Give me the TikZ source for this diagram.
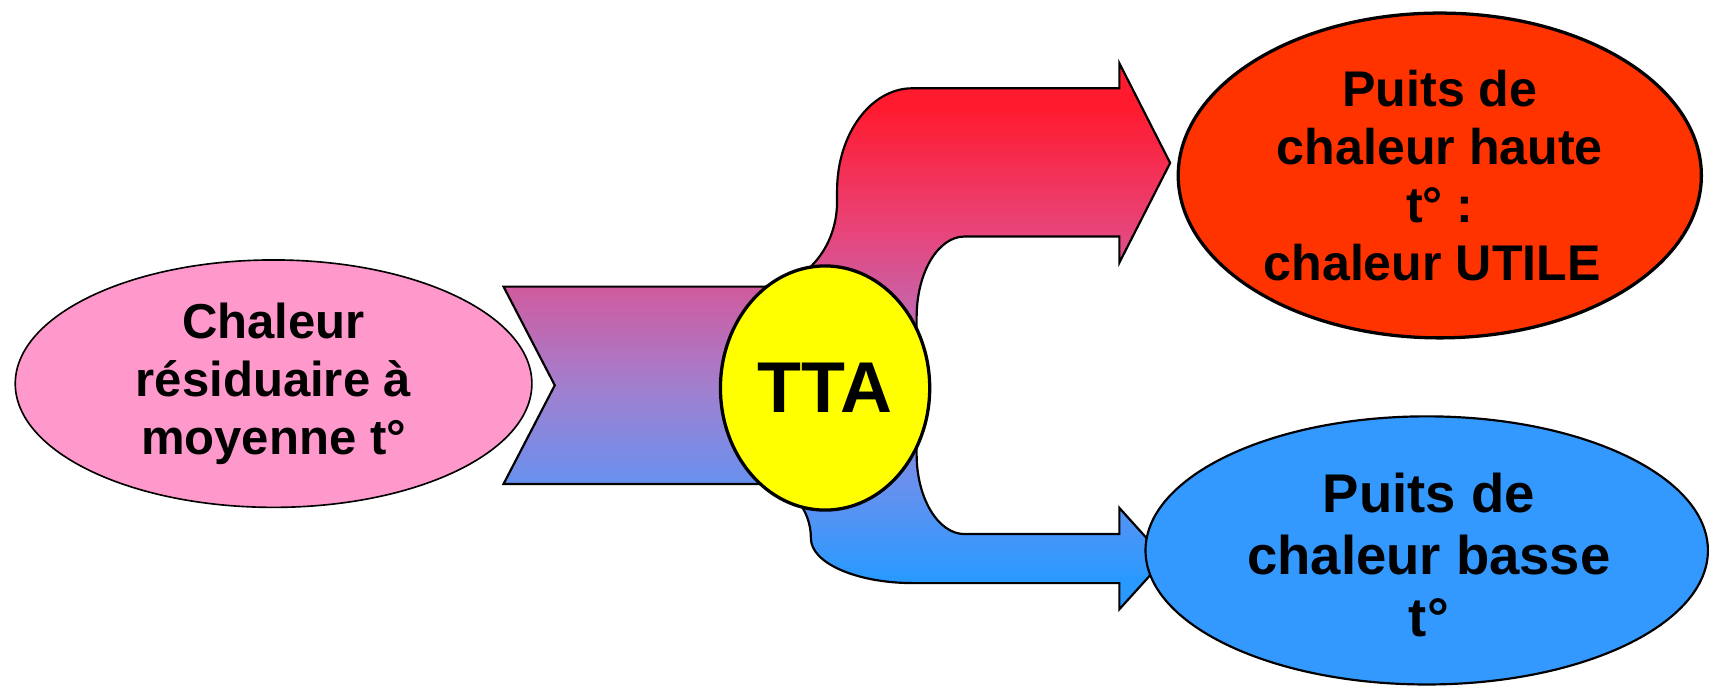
\documentclass[tikz,border=0pt]{standalone}
\usepackage{fontspec}
\setmainfont{Liberation Sans}
\usetikzlibrary{shapes.geometric}
\pgfdeclareverticalshading{flowshade}{100bp}{rgb(0bp)=(0.16,0.6,1); rgb(25bp)=(0.16,0.6,1); rgb(28bp)=(0.165,0.6,1); rgb(36.8bp)=(0.416,0.565,0.933); rgb(45bp)=(0.627,0.502,0.816); rgb(52.8bp)=(0.784,0.384,0.659); rgb(59.7bp)=(0.91,0.267,0.478); rgb(71bp)=(1,0.102,0.18); rgb(100bp)=(1,0.102,0.18)}
\definecolor{pinkfill}{RGB}{255,153,204}
\definecolor{redfill}{RGB}{255,51,0}
\definecolor{bluefill}{RGB}{51,153,255}
\definecolor{yellowfill}{RGB}{255,255,0}
\tikzset{
  flow/.style={shading=flowshade, draw=black, line width=2pt},
  bubble/.style={ellipse, draw=black, inner sep=0pt, align=center, text=black},
  lbl/.style={font=\fontsize{45}{53}\selectfont\bfseries},
}
\begin{document}
\begin{tikzpicture}[x=1pt, y=-1pt]
\useasboundingbox (0,0) rectangle (1568,629);
\fill[white] (0,0) rectangle (1568,629);
% combined flow arrow shape
\shadedraw[flow] (462,263) -- (700,263)
  .. controls (737.5,263) and (768,228) .. (768,185) -- (768,175)
  .. controls (768,123) and (799,81) .. (837,81) -- (1027,81) -- (1027,58)
  -- (1073.6,149.5) -- (1027,241) -- (1027,217) -- (885,217)
  .. controls (860.7,217) and (841,250) .. (841,291) -- (841,417)
  .. controls (841,457) and (860.7,490) .. (885,490) -- (1027,490) -- (1027,466)
  -- (1069,512.6) -- (1027,559) -- (1027,535) -- (838,535)
  .. controls (786,535) and (744,516.6) .. (744,494)
  .. controls (744,466.4) and (724.3,444) .. (700,444) -- (462,444) -- (509,353.5) -- cycle;
% ellipses
\node[bubble, fill=pinkfill, line width=1.5pt, minimum width=474pt, minimum height=227pt, lbl]
  (src) at (251,352) {Chaleur\\résiduaire à\\moyenne t°};
\node[bubble, fill=yellowfill, line width=3pt, minimum width=192pt, minimum height=224pt,
  font=\fontsize{66}{70}\selectfont\bfseries] (tta) at (757,356) {TTA};
\node[bubble, fill=redfill, line width=3pt, minimum width=480pt, minimum height=298pt,
  font=\fontsize{46}{53}\selectfont\bfseries] (hot) at (1321,161)
  {Puits de\\chaleur haute\\t° :\\chaleur UTILE\hspace*{14pt}};
\node[bubble, fill=bluefill, line width=2pt, minimum width=516pt, minimum height=246pt] (cold) at (1309,505) {};
\node[align=center, inner sep=0pt, font=\fontsize{50}{57}\selectfont\bfseries] (coldtxt) at (1311,509)
  {Puits de\\chaleur basse\\t°};
\end{tikzpicture}
\end{document}
